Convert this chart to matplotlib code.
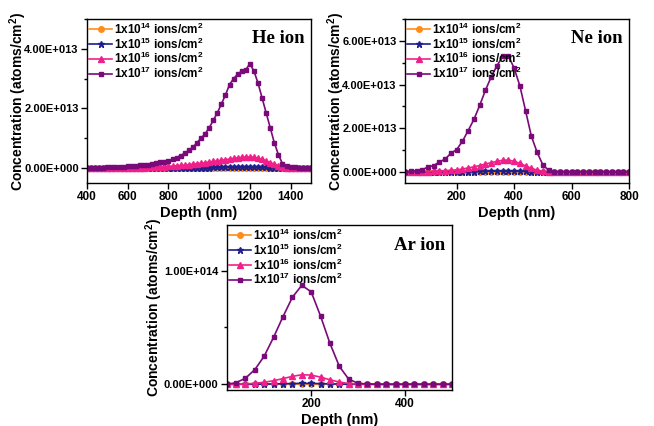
import matplotlib
matplotlib.use("Agg")
import matplotlib.pyplot as plt
from matplotlib.ticker import FuncFormatter, MultipleLocator, AutoMinorLocator

plt.rcParams['font.family'] = ['Liberation Sans', 'DejaVu Sans']
plt.rcParams['font.weight'] = 'bold'
plt.rcParams['mathtext.default'] = 'regular'

labels = ["1x10$^{14}$ ions/cm$^{2}$", "1x10$^{15}$ ions/cm$^{2}$",
          "1x10$^{16}$ ions/cm$^{2}$", "1x10$^{17}$ ions/cm$^{2}$"]
colors = ["#FF8C1A", "#1E1E8C", "#F0208A", "#7A0A7A"]
markers = ["o", "*", "^", "s"]

# ---------------- He ion (values in 1e12 atoms/cm2) ----------------
he_x = [400, 420, 440, 460, 480, 500, 520, 540, 560, 580, 600, 620, 640, 660, 680,
        700, 720, 740, 760, 780, 800, 820, 840, 860, 880, 900, 920, 940, 960, 980,
        1000, 1020, 1040, 1060, 1080, 1100, 1120, 1140, 1160, 1180, 1200, 1220,
        1240, 1260, 1280, 1300, 1320, 1340, 1360, 1380, 1400, 1420, 1440, 1460,
        1480, 1500]
he_17 = [0.0, 0.05, 0.1, 0.15, 0.2, 0.25, 0.3, 0.35, 0.4, 0.45, 0.55, 0.8, 0.75,
         0.9, 1.0, 1.1, 1.3, 1.6, 1.9, 2.2, 2.5, 2.9, 3.5, 4.2, 5.0, 6.0, 7.0, 8.5,
         10.0, 11.5, 13.5, 16.0, 18.5, 21.5, 24.5, 28.0, 30.0, 31.5, 32.5, 33.0,
         35.0, 32.5, 28.5, 23.5, 18.5, 13.5, 8.5, 4.5, 1.5, 0.6, 0.4, 0.3, 0.2,
         0.15, 0.1, 0.0]
he_16 = [0.0, 0.0, 0.0, 0.01, 0.01, 0.02, 0.03, 0.04, 0.05, 0.06, 0.08, 0.1, 0.12,
         0.15, 0.18, 0.22, 0.27, 0.33, 0.4, 0.48, 0.57, 0.67, 0.78, 0.9, 1.03,
         1.17, 1.32, 1.48, 1.65, 1.83, 2.02, 2.22, 2.42, 2.63, 2.84, 3.05, 3.25,
         3.43, 3.58, 3.7, 3.75, 3.6, 3.3, 2.9, 2.4, 1.85, 1.3, 0.8, 0.4, 0.15,
         0.06, 0.03, 0.02, 0.01, 0.0, 0.0]
he_15 = [0.0, 0.0, 0.0, 0.0, 0.0, 0.0, 0.0, 0.0, 0.01, 0.01, 0.01, 0.01, 0.01,
         0.02, 0.02, 0.02, 0.03, 0.03, 0.04, 0.05, 0.06, 0.07, 0.08, 0.09, 0.1,
         0.12, 0.13, 0.15, 0.17, 0.18, 0.2, 0.22, 0.24, 0.26, 0.28, 0.3, 0.32,
         0.34, 0.36, 0.37, 0.38, 0.36, 0.33, 0.29, 0.24, 0.18, 0.13, 0.08, 0.04,
         0.02, 0.01, 0.0, 0.0, 0.0, 0.0, 0.0]
he_14 = [0.0, 0.0, 0.0, 0.0, 0.0, 0.0, 0.0, 0.0, 0.0, 0.0, 0.0, 0.0, 0.0, 0.0,
         0.0, 0.0, 0.0, 0.0, 0.0, 0.0, 0.01, 0.01, 0.01, 0.01, 0.01, 0.01, 0.01,
         0.01, 0.02, 0.02, 0.02, 0.02, 0.02, 0.03, 0.03, 0.03, 0.03, 0.03, 0.04,
         0.04, 0.04, 0.04, 0.03, 0.03, 0.02, 0.02, 0.01, 0.01, 0.0, 0.0, 0.0,
         0.0, 0.0, 0.0, 0.0, 0.0]

# ---------------- Ne ion ----------------
ne_x = [20, 40, 60, 80, 100, 120, 140, 160, 180, 200, 220, 240, 260, 280, 300,
        320, 340, 360, 380, 400, 420, 440, 460, 480, 500, 520, 540, 560, 580, 600,
        620, 640, 660, 680, 700, 720, 740, 760, 780, 800]
ne_17 = [0.0, 0.3, 0.7, 1.1, 2.3, 3.0, 4.6, 6.0, 8.6, 10.3, 14.1, 19.0, 24.1,
         30.5, 37.4, 43.5, 48.6, 52.9, 53.2, 47.5, 39.4, 27.9, 16.4, 9.0, 3.3,
         0.8, 0.2, 0.0, 0.0, 0.0, 0.0, 0.0, 0.0, 0.0, 0.0, 0.0, 0.0, 0.0, 0.0, 0.0]
ne_16 = [0.0, 0.0, 0.05, 0.1, 0.2, 0.3, 0.45, 0.6, 0.85, 1.0, 1.4, 1.9, 2.4, 3.0,
         3.7, 4.3, 4.9, 5.4, 5.5, 4.9, 4.0, 2.8, 1.7, 0.9, 0.3, 0.1, 0.02, 0.0,
         0.0, 0.0, 0.0, 0.0, 0.0, 0.0, 0.0, 0.0, 0.0, 0.0, 0.0, 0.0]
ne_15 = [0.0, 0.0, 0.0, 0.01, 0.02, 0.03, 0.05, 0.06, 0.09, 0.1, 0.14, 0.19, 0.24,
         0.3, 0.37, 0.43, 0.49, 0.54, 0.55, 0.49, 0.4, 0.28, 0.17, 0.09, 0.03,
         0.01, 0.0, 0.0, 0.0, 0.0, 0.0, 0.0, 0.0, 0.0, 0.0, 0.0, 0.0, 0.0, 0.0, 0.0]
ne_14 = [0.0, 0.0, 0.0, 0.0, 0.0, 0.0, 0.0, 0.01, 0.01, 0.01, 0.01, 0.02, 0.02,
         0.03, 0.04, 0.04, 0.05, 0.05, 0.05, 0.05, 0.04, 0.03, 0.02, 0.01, 0.0,
         0.0, 0.0, 0.0, 0.0, 0.0, 0.0, 0.0, 0.0, 0.0, 0.0, 0.0, 0.0, 0.0, 0.0, 0.0]

# ---------------- Ar ion ----------------
ar_x = [20, 40, 60, 80, 100, 120, 140, 160, 180, 200, 220, 240, 260, 280, 300,
        320, 340, 360, 380, 400, 420, 440, 460, 480, 500]
ar_17 = [0.0, 1.4, 5.4, 12.9, 24.8, 41.4, 59.5, 76.5, 87.0, 81.3, 60.0, 36.0,
         15.8, 4.5, 0.9, 0.3, 0.0, 0.0, 0.0, 0.0, 0.0, 0.0, 0.0, 0.0, 0.0]
ar_16 = [0.0, 0.1, 0.3, 0.9, 1.8, 3.2, 5.0, 7.0, 8.4, 8.1, 6.3, 4.0, 2.0, 0.7,
         0.2, 0.05, 0.0, 0.0, 0.0, 0.0, 0.0, 0.0, 0.0, 0.0, 0.0]
ar_15 = [0.0, 0.01, 0.03, 0.09, 0.18, 0.32, 0.5, 0.7, 0.85, 0.81, 0.62, 0.4,
         0.2, 0.07, 0.02, 0.0, 0.0, 0.0, 0.0, 0.0, 0.0, 0.0, 0.0, 0.0, 0.0]
ar_14 = [0.0, 0.0, 0.0, 0.01, 0.02, 0.03, 0.05, 0.07, 0.09, 0.08, 0.06, 0.04,
         0.02, 0.01, 0.0, 0.0, 0.0, 0.0, 0.0, 0.0, 0.0, 0.0, 0.0, 0.0, 0.0]

SCALE = 1e12


def sci(v, pos):
    s = f"{v:.2E}"
    mant, exp = s.split("E")
    sign = exp[0]
    return f"{mant}E{sign}{int(exp[1:]):03d}"


fig = plt.figure(figsize=(6.54, 4.26), dpi=100)


def panel(rect, x, series, title, xlim, ylim, xticks, ymajor, ylab_x):
    ax = fig.add_axes(rect)
    for i, ys in enumerate(series):
        ms = 3.4 if markers[i] == "s" else 4
        if markers[i] == "*":
            ms = 4.5
        ax.plot(x, [v * SCALE for v in ys], color=colors[i], marker=markers[i],
                markersize=ms, linewidth=1.2, label=labels[i])
    ax.set_xlim(*xlim)
    ax.set_ylim(*ylim)
    ax.set_xticks(xticks)
    ax.yaxis.set_major_locator(MultipleLocator(ymajor))
    ax.yaxis.set_minor_locator(AutoMinorLocator(2))
    ax.yaxis.set_major_formatter(FuncFormatter(sci))
    ax.tick_params(axis='both', which='major', direction='out', length=4,
                   width=1, labelsize=8, pad=2, top=False, right=False)
    ax.tick_params(axis='x', labelsize=8.5)
    ax.tick_params(axis='y', which='minor', direction='out', length=2.5, width=1)
    for lbl in ax.get_xticklabels() + ax.get_yticklabels():
        lbl.set_fontweight('bold')
    for sp in ax.spines.values():
        sp.set_linewidth(1.0)
    ax.set_xlabel("Depth (nm)", fontsize=10.5, fontweight='bold', labelpad=2)
    ax.set_ylabel("Concentration (atoms/cm$^{2}$)", fontsize=10, fontweight='bold')
    ax.yaxis.set_label_coords(ylab_x, 0.5)
    ax.legend(loc='upper left', frameon=False,
              prop={'weight': 'bold', 'size': 8.5}, handlelength=1.9,
              handletextpad=0.15, labelspacing=-0.02, borderaxespad=0.05,
              borderpad=0.15)
    ax.text(0.97, 0.93, title, transform=ax.transAxes, ha='right', va='top',
            fontsize=13.5, fontweight='bold', family='Liberation Serif')
    return ax


panel([0.133, 0.5704, 0.3425, 0.385], he_x, [he_14, he_15, he_16, he_17],
      "He ion", (400, 1500), (-0.5e13, 5e13), [400, 600, 800, 1000, 1200, 1400],
      2e13, -0.26)
panel([0.6193, 0.5704, 0.3425, 0.385], ne_x, [ne_14, ne_15, ne_16, ne_17],
      "Ne ion", (20, 800), (-0.5e13, 7e13), [200, 400, 600, 800], 2e13, -0.26)
panel([0.3466, 0.0845, 0.3445, 0.3873], ar_x, [ar_14, ar_15, ar_16, ar_17],
      "Ar ion", (20, 500), (-0.05e14, 1.4e14), [200, 400], 1e14, -0.275)

fig.savefig("out.png", dpi=100)
